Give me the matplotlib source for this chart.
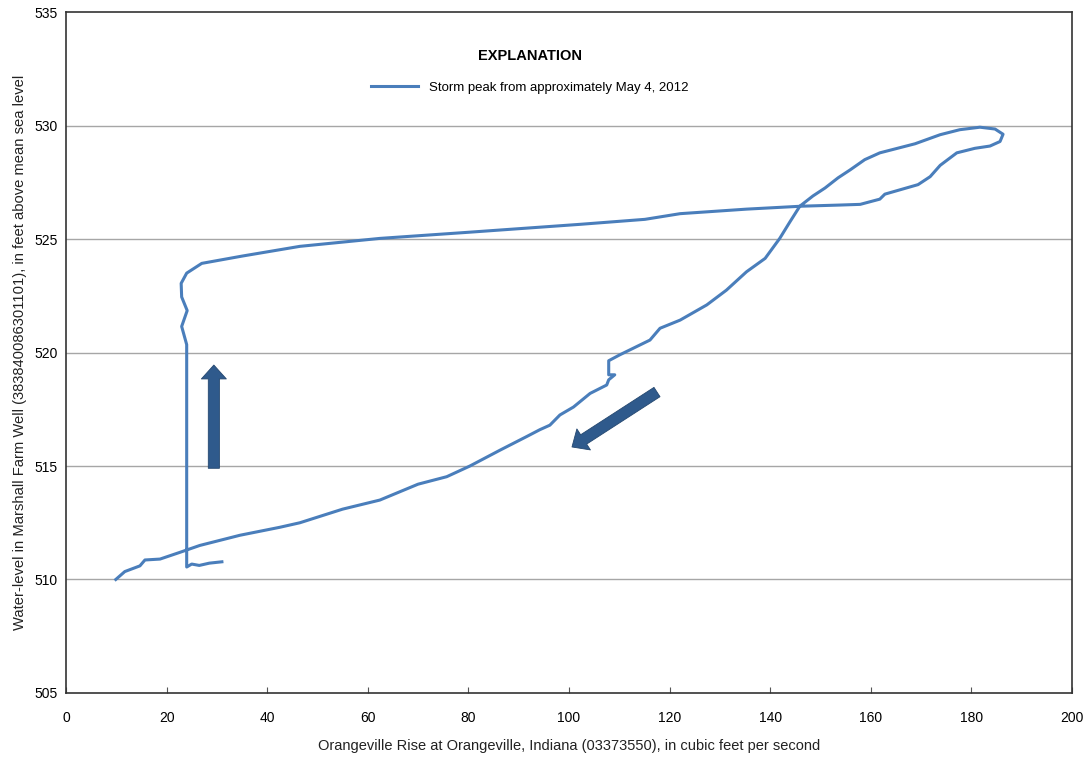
import matplotlib.pyplot as plt
from matplotlib import font_manager

# storm hysteresis loop (discharge cfs, water level ft)
flow = [31.0, 28.5, 26.5, 25.0, 24.0,
        24.0, 23.0, 24.1, 23.0, 22.9, 24.0, 27.0, 35.0, 46.5, 62.4, 80.0,
        102.2, 115.1, 122.1, 135.3, 146.3, 153.9, 157.9, 161.8, 162.8, 169.4,
        171.8, 173.8, 177.1, 180.7, 183.7, 185.7, 186.3, 184.7, 181.7, 177.7,
        173.8, 168.8, 161.8, 158.8, 155.9, 153.5, 150.9, 148.5, 145.9, 143.9,
        141.9, 139.0, 135.3, 131.3, 127.4, 122.1, 118.1, 116.1, 110.1, 107.9,
        107.9, 109.1, 107.9, 107.5, 104.2, 100.9, 98.2, 96.2, 94.2, 91.6,
        86.3, 80.3, 75.7, 70.0, 62.4, 55.0, 46.5, 42.5, 34.6, 26.6, 22.7,
        18.7, 15.7, 14.7, 11.7, 9.9]
level = [510.78, 510.72, 510.62, 510.68, 510.55,
         520.35, 521.15, 521.85, 522.45, 523.05, 523.5, 523.93, 524.25, 524.68,
         525.03, 525.3, 525.65, 525.87, 526.12, 526.32, 526.45, 526.5, 526.53,
         526.76, 526.98, 527.4, 527.75, 528.25, 528.8, 529.0, 529.1, 529.3,
         529.62, 529.85, 529.93, 529.82, 529.6, 529.2, 528.8, 528.5, 528.05,
         527.7, 527.25, 526.9, 526.45, 525.75, 525.03, 524.15, 523.56, 522.75,
         522.1, 521.43, 521.07, 520.55, 519.9, 519.64, 519.02, 519.02, 518.8,
         518.57, 518.2, 517.6, 517.25, 516.8, 516.6, 516.3, 515.7, 515.0,
         514.53, 514.2, 513.5, 513.1, 512.5, 512.3, 511.95, 511.5, 511.2,
         510.9, 510.86, 510.6, 510.35, 510.0]

xticks = list(range(0, 201, 20))
yticks = list(range(505, 536, 5))

names = {f.name for f in font_manager.fontManager.ttflist}
fam = 'Liberation Sans Narrow' if 'Liberation Sans Narrow' in names else 'Liberation Sans'
plt.rcParams['font.family'] = [fam, 'DejaVu Sans']

line_c = '#4a7ebb'
arrow_c = '#2f5a8c'

fig = plt.figure(figsize=(10.85, 7.59), dpi=100)
ax = fig.add_axes([0.0608, 0.087, 0.9272, 0.897])

for y in yticks[1:-1]:
    ax.axhline(y, color='#a6a6a6', lw=1.0, zorder=1)

ax.plot(flow, level, color=line_c, lw=2.2, solid_joinstyle='round',
        label='Storm peak from approximately May 4, 2012', zorder=3)

# direction arrows
for tail, tip in [((29.4, 514.9), (29.4, 519.45)),
                  ((117.5, 518.26), (100.6, 515.84))]:
    ax.annotate('', xy=tip, xytext=tail, zorder=4,
                arrowprops=dict(arrowstyle='simple,head_length=1.0,head_width=1.8,tail_width=0.8',
                                fc=arrow_c, ec='#24476f', lw=0.6,
                                shrinkA=0, shrinkB=0, mutation_scale=10))

ax.set_xlim(0, 200)
ax.set_ylim(505, 535)
ax.set_xticks(xticks)
ax.set_yticks(yticks)
ax.tick_params(axis='x', direction='in', length=4, width=0.8, color='#555555',
               labelsize=10, pad=13)
ax.tick_params(axis='y', length=0, labelsize=10, pad=6)
for s in ax.spines.values():
    s.set_color('#333333')
    s.set_linewidth(1.2)

ax.set_xlabel('Orangeville Rise at Orangeville, Indiana (03373550), in cubic feet per second',
              fontsize=10.5, labelpad=10, color='#222222')
ax.set_ylabel('Water-level in Marshall Farm Well (383840086301101), in feet above mean sea level',
              fontsize=10.6, labelpad=5, color='#222222')

leg = ax.legend(loc='upper center', bbox_to_anchor=(0.461, 0.963), frameon=False,
                title='EXPLANATION', fontsize=9.5, handlelength=3.6,
                title_fontproperties={'weight': 'bold', 'size': 10.5})
leg._legend_box.sep = 13

fig.savefig('out.png', dpi=100)
